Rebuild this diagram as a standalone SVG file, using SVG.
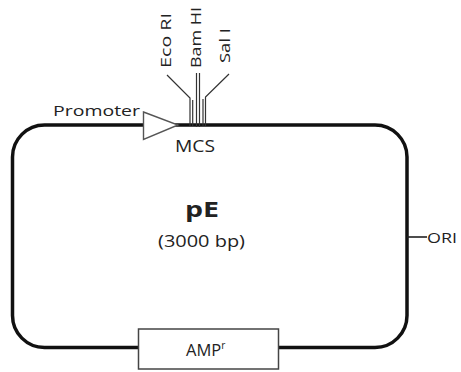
<svg xmlns="http://www.w3.org/2000/svg" width="461" height="372" viewBox="0 0 461 372">
<style>
text{font-family:"Open Sans","Noto Sans","Liberation Sans",sans-serif;fill:#222}
.lbl{font-size:15px}
.thin{fill:none;stroke:#333;stroke-width:1.2}
</style>
<rect width="461" height="372" fill="#fff"/>
<g id="connectors">
<rect id="plasmid" x="12.5" y="125" width="394.5" height="222.5" rx="32" ry="32" fill="none" stroke="#111" stroke-width="3.5"/>
<line x1="407" y1="237" x2="427" y2="237" stroke="#222" stroke-width="1.6"/>
<polyline class="thin" points="167,75 190,98 190,126"/>
<line class="thin" x1="192.7" y1="100" x2="192.7" y2="126"/>
<line class="thin" x1="196.5" y1="73" x2="196.5" y2="127"/>
<line class="thin" x1="199.5" y1="73" x2="199.5" y2="127"/>
<polyline class="thin" points="229,74 205.5,97 205.5,126"/>
<line class="thin" x1="203" y1="99" x2="203" y2="126"/>
</g>
<g id="promoter">
<polygon points="143.5,112 178,125 143.5,139.5" fill="#fff" stroke="#555" stroke-width="1.4"/>
<text class="lbl" x="53" y="116" textLength="87" lengthAdjust="spacingAndGlyphs">Promoter</text>
</g>
<g id="mcs">
<text x="175" y="152" font-size="16" textLength="40" lengthAdjust="spacingAndGlyphs">MCS</text>
<text class="lbl" transform="translate(171,68) rotate(-90)" textLength="55" lengthAdjust="spacingAndGlyphs">Eco RI</text>
<text class="lbl" transform="translate(200.5,68) rotate(-90)" textLength="61" lengthAdjust="spacingAndGlyphs">Bam HI</text>
<text class="lbl" transform="translate(230,63) rotate(-90)" textLength="35" lengthAdjust="spacingAndGlyphs">Sal I</text>
</g>
<g id="title">
<text x="185" y="217" font-size="21.5" font-weight="bold" textLength="34" lengthAdjust="spacingAndGlyphs">pE</text>
<text x="201.5" y="246.5" font-size="15.5" text-anchor="middle" textLength="87" lengthAdjust="spacingAndGlyphs">(3000 bp)</text>
</g>
<g id="ori">
<text class="lbl" x="427" y="243" textLength="30" lengthAdjust="spacingAndGlyphs">ORI</text>
</g>
<g id="amp">
<rect x="138.5" y="329" width="140" height="40" fill="#fff" stroke="#444" stroke-width="1.5"/>
<text x="186" y="356" font-size="16.5">AMP<tspan font-size="10" dy="-7">r</tspan></text>
</g>
</svg>
